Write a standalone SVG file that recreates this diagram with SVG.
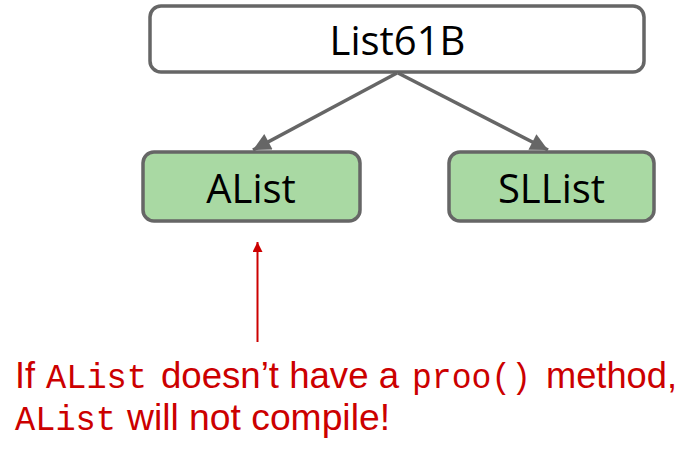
<svg xmlns="http://www.w3.org/2000/svg" width="683" height="452" viewBox="0 0 683 452">
<style>
.box{stroke:#666666;stroke-width:3.5}
.top{fill:#ffffff}
.sub{fill:#a9d9a3}
.lbl{font-family:"Open Sans","Liberation Sans",sans-serif;font-size:40px;fill:#000000;text-anchor:middle}
.edge{stroke:#666666;stroke-width:3.5;fill:none}
.note{font-family:"Liberation Sans",Arial,sans-serif;font-size:36px;fill:#cc0000}
.mono{font-family:"Liberation Mono","DejaVu Sans Mono",monospace;font-size:35px;fill:#cc0000}
</style>
<defs>
<marker id="grayhead" viewBox="0 0 10 10" refX="10" refY="5" markerWidth="5.5" markerHeight="5" markerUnits="strokeWidth" orient="auto">
<path d="M0,0 L10,5 L0,10 Z" fill="#666666"/>
</marker>
<marker id="redhead" viewBox="0 0 10 10" refX="10" refY="5" markerWidth="7" markerHeight="5" markerUnits="strokeWidth" orient="auto">
<path d="M0,0 L10,5 L0,10 Z" fill="#cc0000"/>
</marker>
</defs>
<g id="connectors">
<line class="edge" x1="397" y1="73" x2="253" y2="150" marker-end="url(#grayhead)"/>
<line class="edge" x1="398" y1="73" x2="548" y2="150" marker-end="url(#grayhead)"/>
<line x1="257.5" y1="342" x2="257.5" y2="242" stroke="#cc0000" stroke-width="2" marker-end="url(#redhead)"/>
</g>
<g id="node-List61B">
<rect class="box top" x="150" y="6" width="494" height="66" rx="11"/>
<text class="lbl" x="397.5" y="55">List61B</text>
</g>
<g id="node-AList">
<rect class="box sub" x="143" y="152" width="217" height="69" rx="11"/>
<text class="lbl" x="251" y="203">AList</text>
</g>
<g id="node-SLList">
<rect class="box sub" x="449" y="152" width="205" height="69" rx="11"/>
<text class="lbl" x="551.5" y="203">SLList</text>
</g>
<g id="note">
<text class="note" x="15" y="388">If</text>
<text class="mono" x="46" y="388" textLength="101" lengthAdjust="spacingAndGlyphs">AList</text>
<text class="note" x="161" y="388" textLength="238" lengthAdjust="spacingAndGlyphs">doesn’t have a</text>
<text class="mono" x="412" y="388" textLength="119" lengthAdjust="spacingAndGlyphs">proo()</text>
<text class="note" x="546" y="388" textLength="131" lengthAdjust="spacingAndGlyphs">method,</text>
<text class="mono" x="15" y="430" textLength="101" lengthAdjust="spacingAndGlyphs">AList</text>
<text class="note" x="127" y="430" textLength="263" lengthAdjust="spacingAndGlyphs">will not compile!</text>
</g>
</svg>
